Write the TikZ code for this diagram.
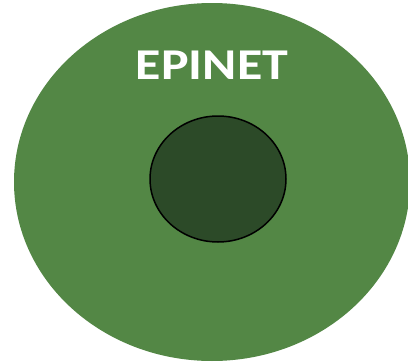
\documentclass[tikz,border=0pt]{standalone}
\usepackage{fontspec}
\setsansfont{Carlito}
\usepackage{tikz}
\definecolor{epigreen}{RGB}{83,135,69}
\definecolor{coregreen}{RGB}{44,74,40}
\begin{document}
\begin{tikzpicture}[x=1pt,y=-1pt]
\useasboundingbox (0,0) rectangle (408,364);
\clip (0,0) rectangle (408,364);
% outer set
\fill[epigreen] (212,182) ellipse (198 and 179);
\node[font=\sffamily\bfseries\fontsize{44}{44}\selectfont,text=white,xscale=1.18] (epinet) at (212,65) {EPINET};
% inner set
\draw[fill=coregreen,line width=1.5pt] (218,179) ellipse (68 and 63);
\end{tikzpicture}
\end{document}
